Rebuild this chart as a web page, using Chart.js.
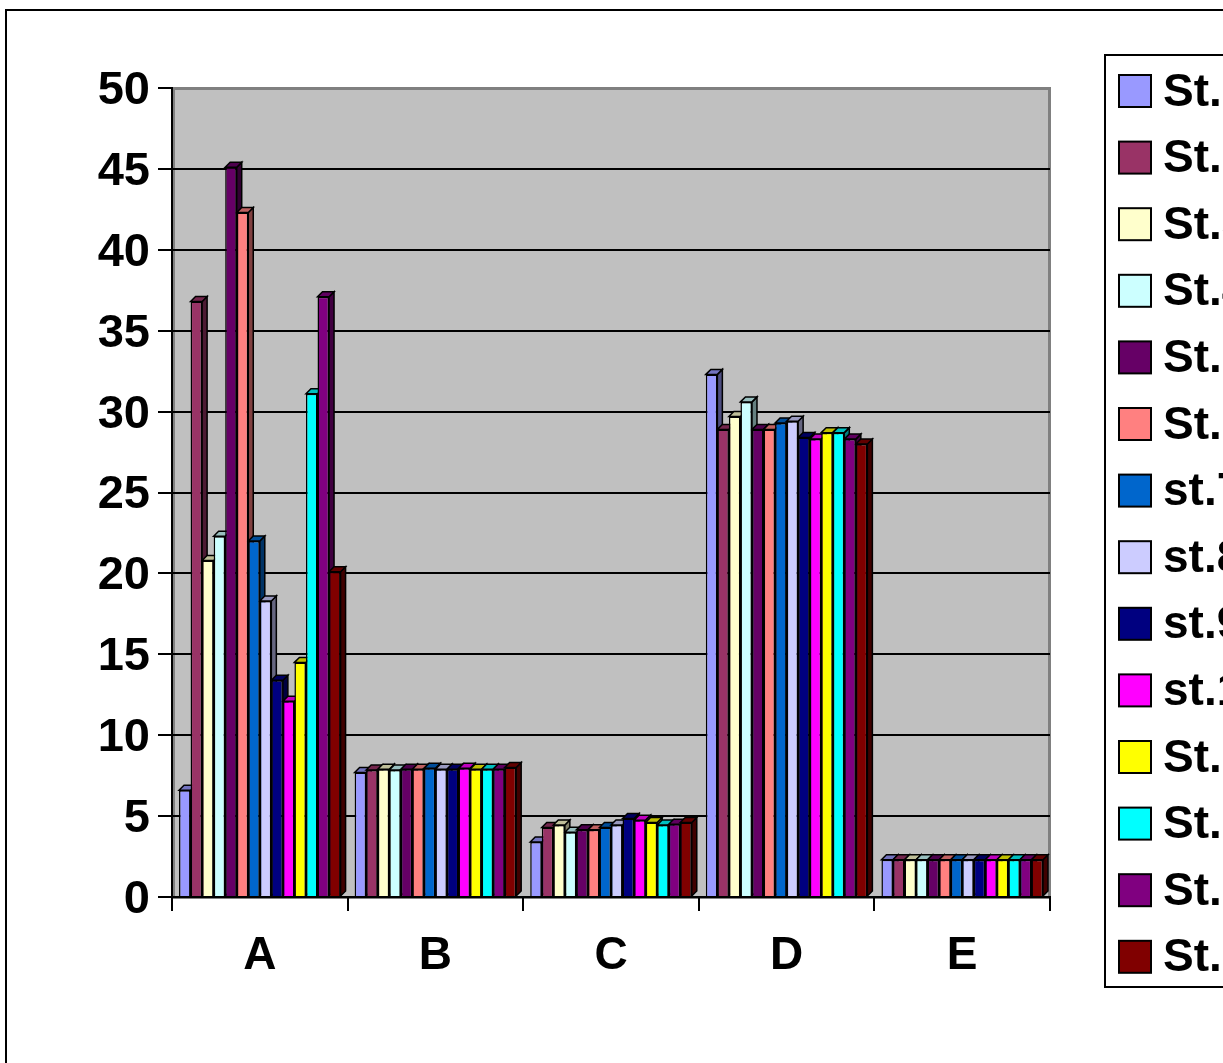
<!DOCTYPE html>
<html>
<head>
<meta charset="utf-8">
<script src="https://cdn.jsdelivr.net/npm/chart.js@4.4.0/dist/chart.umd.min.js"></script>
<style>
  html, body { margin: 0; padding: 0; background: #fff; overflow: hidden; }
  #wrap { width: 1223px; height: 1063px; }
</style>
</head>
<body>
<div id="wrap"><canvas id="stChart" width="1223" height="1063"></canvas></div>
<script>
// categories + one array per station
var categories = ["A", "B", "C", "D", "E"];
var yTicks = [0, 5, 10, 15, 20, 25, 30, 35, 40, 45, 50];

var st1  = [6.6, 7.7, 3.4, 32.3, 2.3];
var st2  = [36.8, 7.85, 4.3, 28.9, 2.3];
var st3  = [20.8, 7.9, 4.45, 29.7, 2.3];
var st4  = [22.3, 7.85, 4.0, 30.6, 2.3];
var st5  = [45.1, 7.9, 4.15, 28.9, 2.3];
var st6  = [42.3, 7.9, 4.15, 28.9, 2.3];
var st7  = [22.0, 7.95, 4.3, 29.3, 2.3];
var st8  = [18.3, 7.9, 4.45, 29.4, 2.3];
var st9  = [13.4, 7.9, 4.85, 28.4, 2.3];
var st10 = [12.1, 7.95, 4.75, 28.3, 2.3];
var st11 = [14.5, 7.9, 4.6, 28.7, 2.3];
var st12 = [31.1, 7.9, 4.45, 28.7, 2.3];
var st13 = [37.1, 7.9, 4.5, 28.3, 2.3];
var st14 = [20.1, 8.0, 4.6, 28.0, 2.3];

var seriesLabels = ["St.1", "St.2", "St.3", "St.4", "St.5", "St.6", "st.7",
                    "st.8", "st.9", "st.10", "St.11", "St.12", "St.13", "St.14"];
var seriesValues = [st1, st2, st3, st4, st5, st6, st7, st8, st9, st10, st11, st12, st13, st14];
var seriesColors = ["#9999FF", "#993366", "#FFFFCC", "#CCFFFF", "#660066", "#FF8080", "#0066CC",
                    "#CCCCFF", "#000080", "#FF00FF", "#FFFF00", "#00FFFF", "#800080", "#800000"];

var FONT = "'Liberation Sans', Arial, sans-serif";
var DEPTH = 5;

function shade(hex, f) {
    var n = parseInt(hex.slice(1), 16);
    var r = Math.round(((n >> 16) & 255) * f),
        g = Math.round(((n >> 8) & 255) * f),
        b = Math.round((n & 255) * f);
    return "rgb(" + r + "," + g + "," + b + ")";
}

// grey back wall + outer frame
var wallPlugin = {
    id: "wall",
    beforeDraw: function (chart) {
        var c = chart.ctx, a = chart.chartArea;
        c.save();
        c.fillStyle = "#fff";
        c.fillRect(0, 0, chart.width, chart.height);
        c.strokeStyle = "#000";
        c.lineWidth = 2;
        c.strokeRect(6, 10, chart.width + 20, chart.height + 20);
        c.fillStyle = "#C0C0C0";
        c.fillRect(a.left, a.top, a.right - a.left, a.bottom - a.top);
        c.strokeStyle = "#808080";
        c.lineWidth = 3;
        c.strokeRect(a.left + 1.5, a.top + 0.5, a.right - a.left - 2, a.bottom - a.top);
        c.restore();
    }
};

// fake 3d: top + side faces drawn before the library draws the front faces
var depthPlugin = {
    id: "depth",
    beforeDatasetsDraw: function (chart) {
        var c = chart.ctx, d = DEPTH;
        c.save();
        c.lineWidth = 1.5;
        c.strokeStyle = "#000";
        c.lineJoin = "miter";
        for (var k = 0; k < categories.length; k++) {
            for (var i = 0; i < seriesValues.length; i++) {
                var bar = chart.getDatasetMeta(i).data[k];
                if (!bar) continue;
                var p = bar.getProps(["x", "y", "base", "width"], true);
                var l = p.x - p.width / 2, r = p.x + p.width / 2, t = p.y, b = p.base;
                // side
                c.fillStyle = shade(seriesColors[i], 0.5);
                c.beginPath();
                c.moveTo(r, t); c.lineTo(r + d, t - d); c.lineTo(r + d, b - d); c.lineTo(r, b);
                c.closePath(); c.fill(); c.stroke();
                // top
                c.fillStyle = shade(seriesColors[i], 0.75);
                c.beginPath();
                c.moveTo(l, t); c.lineTo(l + d, t - d); c.lineTo(r + d, t - d); c.lineTo(r, t);
                c.closePath(); c.fill(); c.stroke();
            }
        }
        c.restore();
    }
};

// legend box on the right (runs off the page edge like the original)
var legendPlugin = {
    id: "sideLegend",
    afterDraw: function (chart) {
        var c = chart.ctx;
        c.save();
        c.strokeStyle = "#000";
        c.lineWidth = 2;
        c.strokeRect(1105, 55, 300, 932);
        c.font = "bold 46px " + FONT;
        c.textBaseline = "middle";
        c.textAlign = "left";
        for (var i = 0; i < seriesLabels.length; i++) {
            var cy = 91 + i * 66.6;
            c.fillStyle = seriesColors[i];
            c.fillRect(1119, cy - 16, 32, 32);
            c.lineWidth = 2;
            c.strokeRect(1119, cy - 16, 32, 32);
            c.fillStyle = "#000";
            c.fillText(seriesLabels[i], 1163, cy + 2);
        }
        c.restore();
    }
};

var datasets = seriesValues.map(function (vals, i) {
    return {
        label: seriesLabels[i],
        data: vals,
        backgroundColor: seriesColors[i],
        borderColor: "#000",
        borderWidth: 1.5,
        barPercentage: 1.0,
        categoryPercentage: 0.92
    };
});

var stChart = new Chart(document.getElementById("stChart"), {
    type: "bar",
    data: { labels: categories, datasets: datasets },
    options: {
        responsive: false,
        animation: false,
        devicePixelRatio: 1,
        layout: { padding: { left: 0, top: 88, right: 173, bottom: 0 } },
        plugins: { legend: { display: false }, tooltip: { enabled: false } },
        scales: {
            x: {
                afterFit: function (s) { s.height = 166; },
                border: { color: "#000", width: 2 },
                grid: { drawOnChartArea: false, tickLength: 14, tickColor: "#000", lineWidth: 2, offset: true },
                ticks: { color: "#000", font: { family: FONT, size: 46, weight: "bold" }, padding: 18 }
            },
            y: {
                min: 0,
                max: 50,
                afterFit: function (s) { s.width = 172; },
                afterBuildTicks: function (s) { s.ticks = yTicks.map(function (v) { return { value: v }; }); },
                border: { color: "#000", width: 2 },
                grid: {
                    color: function (ctx) { return ctx.tick && ctx.tick.value === 50 ? "rgba(0,0,0,0)" : "#000"; },
                    tickColor: "#000",
                    lineWidth: 2,
                    tickLength: 14
                },
                ticks: { color: "#000", font: { family: FONT, size: 47, weight: "bold" }, padding: 8, labelOffset: 3 }
            }
        }
    },
    plugins: [wallPlugin, depthPlugin, legendPlugin]
});
</script>
</body>
</html>
